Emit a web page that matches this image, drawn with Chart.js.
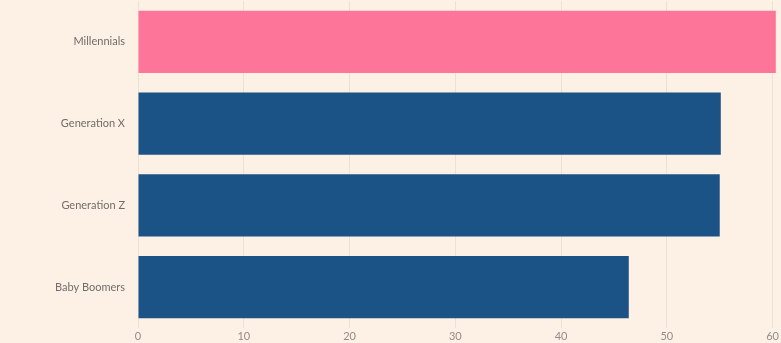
<!DOCTYPE html>
<html>
<head>
<meta charset="utf-8">
<script src="https://cdn.jsdelivr.net/npm/chart.js@4"></script>
<style>
  html, body { margin: 0; padding: 0; background: #FDF0E5; }
  #wrap { width: 781px; height: 343px; }
</style>
</head>
<body>
<div id="wrap"><canvas id="mycanvas" width="781" height="343"></canvas></div>
<script>
var generations = ["Millennials", "Generation X", "Generation Z", "Baby Boomers"];
var shares = [60.3, 55.1, 55.0, 46.4];
var barColors = ["#FD7598", "#1C5386", "#1C5386", "#1C5386"];
var xTicks = [0, 10, 20, 30, 40, 50, 60];

var ctx = document.getElementById("mycanvas");

var barGraph = new Chart(ctx, {
	type: 'bar',
	data: {
		labels: generations,
		datasets: [{
			data: shares,
			backgroundColor: barColors,
			borderWidth: 0,
			barPercentage: 0.76,
			categoryPercentage: 1,
			clip: false
		}]
	},
	options: {
		indexAxis: 'y',
		responsive: false,
		animation: false,
		layout: { padding: { top: 1, right: 5, left: 0, bottom: 0 } },
		plugins: { legend: { display: false }, tooltip: { enabled: false } },
		scales: {
			x: {
				min: 0,
				max: 60,
				afterBuildTicks: function(s) { s.ticks = xTicks.map(function(v) { return { value: v }; }); },
				grid: { color: '#EDE0D4', drawTicks: false },
				border: { display: false },
				ticks: { color: '#948C88', padding: 2, font: { family: 'Lato', size: 11 } },
				afterFit: function(s) { s.height = 15; }
			},
			y: {
				grid: { display: false, drawTicks: false },
				border: { display: false },
				ticks: { color: '#736C69', padding: 13, font: { family: 'Lato', size: 11 } },
				afterFit: function(s) { s.width = 138; s.paddingTop = 0; s.paddingBottom = 0; }
			}
		}
	}
});
</script>
</body>
</html>
